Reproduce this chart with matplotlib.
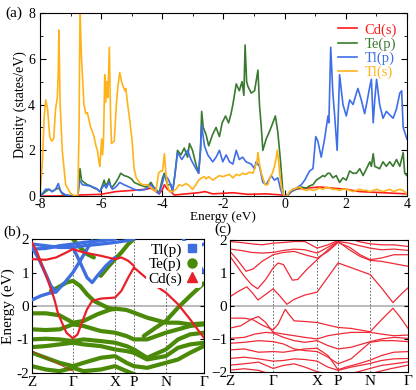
import numpy as np
import matplotlib
matplotlib.use("Agg")
import matplotlib.pyplot as plt
from matplotlib.lines import Line2D

plt.rcParams['font.family'] = ['Liberation Serif', 'DejaVu Serif']
plt.rcParams['mathtext.fontset'] = 'stix'

# ---------------- panel (a) DOS data ----------------
tls_e = [-8.0,-7.92,-7.86,-7.81,-7.75,-7.68,-7.62,-7.55,-7.49,-7.43,-7.40,-7.38,-7.34,-7.27,-7.16,-6.99,-6.83,-6.76,-6.72,-6.69,-6.64,-6.56,-6.50,-6.45,-6.39,-6.34,-6.28,-6.23,-6.17,-6.12,-6.06,-6.04,-5.98,-5.95,-5.92,-5.88,-5.85,-5.81,-5.78,-5.73,-5.69,-5.66,-5.57,-5.50,-5.45,-5.39,-5.33,-5.28,-5.22,-5.19,-5.13,-5.08,-4.99,-4.92,-4.85,-4.75,-4.64,-4.54,-4.48,-4.40,-4.30,-4.21,-4.12,-4.05,-3.99,-3.93,-3.88,-3.83,-3.77,-3.66,-3.55,-3.45,-3.35,-3.22,-3.11,-3.01,-2.90,-2.81,-2.71,-2.62,-2.57,-2.48,-2.35,-2.24,-2.13,-2.02,-1.91,-1.80,-1.69,-1.58,-1.48,-1.37,-1.26,-1.15,-1.04,-0.98,-0.90,-0.87,-0.82,-0.76,-0.71,-0.64,-0.55,-0.48,-0.40,-0.33,-0.27,-0.24,-0.19,-0.16,-0.10,-0.05,0.0,0.08,0.16,0.27,0.38,0.49,0.60,0.71,0.82,0.93,1.04,1.15,1.26,1.37,1.48,1.58,1.69,1.80,1.91,2.02,2.13,2.24,2.35,2.46,2.57,2.68,2.79,2.90,3.01,3.11,3.22,3.33,3.44,3.55,3.66,3.77,3.88,4.0]
tls_d = [0,1.5,3.5,4.2,3.8,2.6,2.4,2.5,3.8,4.3,5.5,7.25,4.0,2.0,0.5,0.1,0.0,0.0,3.0,8.2,6.0,4.0,3.6,3.65,3.3,3.0,2.8,2.6,2.2,2.0,1.4,1.3,2.5,1.8,2.5,5.3,4.1,5.0,4.3,6.5,3.5,2.3,2.4,4.0,4.8,5.4,5.0,4.8,4.6,4.7,4.0,3.5,2.5,1.2,0.8,0.6,0.5,0.5,0.5,0.4,0.3,0.2,1.0,1.1,1.1,1.85,1.0,0.5,0.2,0.2,0.3,0.5,0.45,0.55,0.45,0.3,0.5,0.7,0.8,0.85,0.75,0.85,0.7,0.8,0.9,0.85,0.9,0.95,0.8,0.95,0.9,1.0,0.95,1.05,1.0,1.2,1.5,1.9,1.4,1.0,0.8,0.5,0.5,0.8,1.0,1.3,1.7,2.0,1.5,1.0,0.4,0.1,0.0,0.0,0.2,0.3,0.35,0.4,0.3,0.25,0.3,0.25,0.3,0.35,0.3,0.4,0.35,0.3,0.3,0.25,0.3,0.3,0.25,0.2,0.25,0.3,0.25,0.25,0.2,0.25,0.3,0.25,0.2,0.25,0.3,0.2,0.25,0.3,0.25,0.1]

tep_e = [-8.0,-7.9,-7.81,-7.70,-7.60,-7.49,-7.40,-7.35,-7.27,-7.16,-6.90,-6.76,-6.72,-6.69,-6.64,-6.56,-6.45,-6.34,-6.23,-6.12,-6.04,-5.95,-5.90,-5.85,-5.78,-5.74,-5.68,-5.63,-5.52,-5.43,-5.36,-5.25,-5.13,-5.0,-4.92,-4.75,-4.54,-4.43,-4.37,-4.28,-4.21,-4.10,-3.99,-3.93,-3.83,-3.72,-3.66,-3.58,-3.50,-3.39,-3.28,-3.17,-3.11,-3.01,-2.90,-2.81,-2.75,-2.71,-2.66,-2.57,-2.48,-2.35,-2.24,-2.13,-2.04,-1.93,-1.83,-1.75,-1.69,-1.58,-1.48,-1.39,-1.33,-1.29,-1.24,-1.20,-1.09,-0.98,-0.87,-0.82,-0.76,-0.71,-0.60,-0.50,-0.44,-0.30,-0.22,-0.13,-0.05,0.0,0.08,0.22,0.38,0.55,0.71,0.82,0.93,1.04,1.15,1.26,1.31,1.42,1.48,1.58,1.69,1.80,1.91,2.02,2.13,2.24,2.35,2.46,2.57,2.68,2.79,2.84,2.90,2.95,3.11,3.22,3.33,3.44,3.55,3.66,3.77,3.88,3.93,4.0]
tep_d = [0,0.1,0.2,0.3,0.2,0.3,0.35,0.3,0.1,0.05,0.0,0.0,0.6,1.2,0.7,0.6,0.5,0.45,0.35,0.3,0.2,0.5,0.7,0.45,0.6,0.75,0.4,0.4,0.6,0.8,1.0,0.9,0.85,0.75,0.6,0.5,0.4,0.5,0.6,0.4,0.3,0.15,0.8,1.0,0.5,0.5,0.2,1.0,2.0,1.8,2.1,1.7,2.3,2.0,1.4,1.0,2.0,3.7,3.0,2.7,2.2,2.7,3.0,2.6,3.2,3.5,3.2,3.6,4.0,4.9,4.6,5.0,4.4,6.6,5.0,4.8,4.5,4.6,5.5,4.0,3.0,2.0,2.5,2.8,3.0,3.5,2.8,1.5,0.1,0.0,0.0,0.2,0.3,0.4,0.35,0.45,0.5,0.7,0.8,0.9,0.85,1.0,1.0,0.8,0.9,0.6,0.8,0.7,1.1,1.0,1.0,1.2,0.9,1.2,1.5,1.3,1.85,1.3,1.2,1.5,1.3,1.5,1.3,1.6,1.3,1.9,1.0,0.9]

tlp_e = [-8.0,-7.9,-7.81,-7.70,-7.60,-7.49,-7.40,-7.32,-7.16,-6.90,-6.76,-6.71,-6.61,-6.39,-6.17,-6.04,-5.90,-5.83,-5.74,-5.63,-5.52,-5.39,-5.25,-5.08,-4.92,-4.75,-4.54,-4.37,-4.21,-4.10,-3.99,-3.93,-3.83,-3.72,-3.66,-3.58,-3.50,-3.36,-3.17,-3.06,-2.90,-2.81,-2.75,-2.71,-2.62,-2.51,-2.35,-2.24,-2.13,-2.02,-1.91,-1.80,-1.69,-1.58,-1.48,-1.37,-1.26,-1.09,-0.98,-0.93,-0.82,-0.71,-0.60,-0.44,-0.33,-0.22,-0.13,-0.05,0.0,0.1,0.22,0.38,0.55,0.66,0.82,0.93,1.02,1.09,1.20,1.31,1.42,1.45,1.51,1.58,1.64,1.72,1.80,1.91,2.02,2.13,2.24,2.35,2.40,2.51,2.62,2.68,2.79,2.84,2.90,2.95,3.01,3.11,3.22,3.33,3.55,3.66,3.77,3.83,3.88,4.0]
tlp_d = [0,0.15,0.3,0.3,0.2,0.3,0.55,0.2,0.05,0.0,0.0,0.7,0.5,0.45,0.35,0.2,0.5,0.35,0.6,0.3,0.4,0.6,0.5,0.4,0.3,0.25,0.3,0.5,0.25,0.1,0.6,0.9,0.8,0.5,0.2,1.0,1.9,1.6,2.0,1.6,1.2,1.0,2.0,3.1,2.2,1.8,1.5,1.7,2.0,1.5,1.8,1.5,1.4,2.0,1.6,1.7,1.5,1.4,1.2,1.5,1.3,0.6,0.5,0.9,0.7,0.8,0.3,0.0,0.0,0.05,0.2,0.35,0.5,0.7,1.1,1.2,2.6,2.4,1.7,2.5,3.5,3.2,6.5,4.5,3.5,2.0,5.3,4.0,3.5,4.2,4.0,4.5,4.7,4.2,3.6,4.0,4.8,5.1,3.2,4.2,5.1,4.0,3.4,3.7,3.4,3.8,4.5,4.6,3.0,2.5]

cds_e = [-8,-6.8,-6.7,-6.0,-5.52,-4.99,-4.54,-4.37,-4.21,-4.10,-3.99,-3.93,-3.83,-3.72,-3.61,-3.22,-2.81,-2.60,-2.35,-1.69,-1.2,-0.6,-0.05,0.0,0.1,0.27,0.71,1.15,1.58,2.02,2.46,3.22,4.0]
cds_d = [0.0,0.02,0.05,0.08,0.2,0.25,0.3,0.35,0.2,0.1,0.3,0.5,0.3,0.2,0.05,0.1,0.15,0.2,0.1,0.15,0.08,0.1,0.05,0.0,0.05,0.3,0.35,0.4,0.35,0.3,0.2,0.15,0.1]

dos_labels = ['Cd(s)', 'Te(p)', 'Tl(p)', 'Tl(s)']
dos_colors = ['#ff1a1a', '#3a7a30', '#3f6fe8', '#ffb31a']

# ---------------- k-path labels ----------------
kpath_labels = ['Z', 'Γ', 'X', 'P', 'N', 'Γ']
kpath_b = [0, 23.8, 48.3, 59.3, 77.9, 100]
kpath_c = [0, 24.2, 48.9, 60.7, 78.7, 100]

# ---------------- panel (c) bands: (k, E) knots ----------------
c_cb1 = ([0,4,9.4,12.5,15.7,20,24.2,28,31.9,36,42,48.9,54,60.7,70,78.7,85,91.5,96,100],
         [0.28,0.42,0.58,0.4,0.18,0.35,0.52,0.3,0.05,0.2,0.33,0.42,0.8,1.3,1.12,0.95,0.55,0.1,0.35,0.55])
c_cb2 = ([0,4,8,12,15.5,20,24.2,27,30,35,38,43,48.9,55,60.7,67,73,78.7,85,92,100],
         [1.5,1.2,0.9,0.65,0.52,0.8,1.15,1.3,1.25,0.78,0.8,1.1,1.4,1.7,1.95,1.7,1.5,1.38,1.35,1.28,1.2])
c_cb3 = ([0,4,9,13,18,24.2,30,36,42,48.9,55,60.7,67,73,78.7,85,92,100],
         [1.65,1.4,1.05,1.12,1.35,1.55,1.62,1.65,1.55,1.45,1.65,1.92,1.78,1.55,1.4,1.45,1.55,1.55])
c_cb4 = ([0,6,12,18,24.2,30,36,42,48.9,55,60.7,67,73,78.7,85,92,100],
         [1.72,1.68,1.62,1.6,1.62,1.68,1.72,1.7,1.6,1.78,1.95,1.9,1.82,1.75,1.7,1.72,1.68])
c_cb5 = ([0,6,12,18,24.2,30,36,42,48.9,55,60.7,67,72,78.7,85,92,100],
         [1.95,1.92,1.88,1.85,1.9,1.92,1.95,1.95,1.75,1.85,1.98,2.05,1.95,1.88,1.85,1.85,1.8])
c_vb1 = ([0,8,13,18,24.2,27,31,33,36,42,48.9,55,60.7,68,78.7,85,91.5,95,100],
         [-0.37,-0.37,-0.42,-0.58,-0.72,-0.55,-0.1,-0.25,-0.45,-0.47,-0.5,-0.58,-0.65,-0.68,-0.78,-0.42,-0.07,-0.3,-0.68])
c_vb2 = ([0,6,12,16,20,24.2,30,36,42,48.9,55,60.7,68,78.7,85,92,100],
         [-0.67,-0.6,-0.4,-0.32,-0.5,-0.8,-0.85,-0.9,-0.95,-1.0,-0.9,-0.85,-0.8,-0.8,-0.85,-0.9,-0.88])
c_vb3 = ([0,8,14,20,24.2,30,36,42,48.9,55,60.7,68,78.7,85,92,100],
         [-0.98,-0.95,-0.85,-0.8,-0.82,-0.95,-1.05,-1.1,-1.05,-1.2,-1.3,-1.25,-1.08,-1.0,-0.95,-0.98])
c_vb4 = ([0,8,16,24.2,30,36,42,48.9,55,60.7,68,78.7,85,92,100],
         [-1.13,-1.1,-1.05,-1.08,-1.15,-1.3,-1.35,-1.38,-1.55,-1.75,-1.6,-1.1,-1.05,-1.05,-1.08])
c_vb5 = ([0,8,16,24.2,30,36,42,48.9,55,60.7,65,72,78.7,85,92,100],
         [-1.33,-1.3,-1.4,-1.38,-1.4,-1.35,-1.3,-1.28,-1.5,-1.93,-1.85,-1.75,-1.64,-1.5,-1.4,-1.38])
c_vb6 = ([0,8,16,24.2,30,36,42,48.9,55,60.7,68,78.7,85,92,100],
         [-1.59,-1.55,-1.6,-1.67,-1.65,-1.6,-1.62,-1.67,-1.85,-1.95,-1.85,-1.74,-1.65,-1.6,-1.59])
c_vb7 = ([0,8,16,24.2,30,36,42,48.9,55,68,78.7,85,92,100],
         [-1.79,-1.75,-1.7,-1.89,-1.8,-1.75,-1.85,-1.99,-2.05,-2.05,-1.89,-1.8,-1.75,-1.69])
c_vb8 = ([0,8,16,22,78.7,90,100],
         [-1.94,-1.9,-1.95,-2.05,-2.05,-1.9,-1.79])
c_bands = [c_cb1, c_cb2, c_cb3, c_cb4, c_cb5, c_vb1, c_vb2, c_vb3, c_vb4, c_vb5, c_vb6, c_vb7, c_vb8]

# ---------------- panel (b) fat bands: (k, E) knots ----------------
b_tlp1 = ([0,5,10,14,19,23.8,28,32,35], [0.18,0.3,0.38,0.42,0.7,1.0,1.35,1.7,1.95])
b_tlp2 = ([0,4,8,11,14], [1.75,1.4,0.95,0.6,0.42])
b_tlp3 = ([23.8,28,32,35,38,43,48.3], [1.75,1.3,0.85,0.7,0.9,1.2,1.45])
b_tlp4 = ([0,8,16,23.8,30,40,48.3,55,59.3], [1.85,1.8,1.75,1.75,1.8,1.85,1.9,1.95,2.0])
b_tlp5 = ([0,8,16,23.8,30,40,48.3], [1.7,1.72,1.8,1.85,1.9,1.95,2.0])
b_tlp6 = ([88,94,100], [2.0,1.5,1.0])
b_tlp7 = ([93,100], [1.7,1.85])
b_cds1 = ([0,3,6,9,11,13,15,17,20,23.8,26.5,29,32,35,40,48.3,52,56,59.3,65,72,77.9,85,92,100],
          [1.9,1.6,1.2,0.8,0.5,0.2,-0.2,-0.45,-0.8,-0.97,-0.85,-0.5,-0.1,0.15,0.22,0.25,0.45,0.85,1.15,0.9,0.6,0.4,0.05,-0.4,-0.95])
b_cds2 = ([0,8,14,20,23.8,30,40,48.3,52,56,59.3], [1.4,1.38,1.45,1.6,1.7,1.6,1.5,1.4,1.45,1.35,1.2])
b_tep_c1 = ([11,15,20,23.8,28,32,36,40,44,48.3], [0.45,0.55,0.7,0.75,0.6,0.35,0.15,0.05,-0.05,-0.1])
b_tep_c2 = ([40,44,48.3,52,56,59.3], [0.9,1.15,1.4,1.6,1.85,2.0])
b_tep_c3 = ([23.8,28,32,36], [2.0,1.75,1.55,1.45])
b_tep_c4 = ([65,72,77.9,85,92,100], [-0.9,-0.65,-0.45,-0.05,0.3,0.68])
b_tep_v1 = ([0,8,16,23.8,30,38,45,48.3,55,59.3,67,77.9,85,92,100],
            [-0.22,-0.22,-0.28,-0.5,-0.45,-0.25,-0.12,-0.08,-0.12,-0.2,-0.35,-0.5,-0.5,-0.55,-0.52])
b_tep_v2 = ([0,8,16,23.8,30,40,48.3,55,59.3,67,77.9,85,92,100],
            [-0.7,-0.72,-0.7,-0.55,-0.6,-0.75,-0.8,-0.9,-1.0,-1.0,-0.8,-0.7,-0.6,-0.55])
b_tep_v3 = ([0,8,16,23.8,30,40,48.3,55,59.3,67,77.9,85,92,100],
            [-1.0,-0.98,-1.0,-1.05,-1.0,-1.05,-1.1,-1.2,-1.3,-1.55,-1.3,-1.0,-0.85,-0.8])
b_tep_v4 = ([0,8,16,23.8,30,40,48.3,55,59.3,67,77.9,85,92,100],
            [-1.23,-1.2,-1.15,-1.1,-1.15,-1.2,-1.3,-1.35,-1.4,-1.6,-1.5,-1.25,-1.15,-1.1])
b_tep_v5 = ([0,8,16,23.8,30,40,48.3,55,59.3,67,77.9,85,92,100],
            [-1.4,-1.55,-1.7,-1.8,-1.7,-1.55,-1.5,-1.7,-1.8,-1.85,-1.7,-1.6,-1.4,-1.2])
b_tep_v6 = ([0,8,16,23.8,30,40,48.3,55,60], [-1.8,-1.9,-1.95,-1.85,-1.95,-1.9,-1.8,-1.95,-2.05])
b_thin1 = ([0,10,20,24], [-1.35,-1.6,-1.85,-1.95])

b_blue = [b_tlp1, b_tlp2, b_tlp3, b_tlp4, b_tlp5, b_tlp6, b_tlp7]
b_red = [b_cds1, b_cds2]
b_green = [b_tep_c1, b_tep_c2, b_tep_c3, b_tep_c4, b_tep_v1, b_tep_v2, b_tep_v3,
           b_tep_v4, b_tep_v5, b_tep_v6]

legend_b = ['Tl(p)', 'Te(p)', 'Cd(s)']
col_blue, col_green, col_red = '#3d6fe0', '#4a8a08', '#e8202a'

# ---------------- figure ----------------
fig = plt.figure(figsize=(4.16, 3.90), dpi=100)
ax_a = fig.add_axes([0.096, 0.497, 0.882, 0.470])
ax_b = fig.add_axes([0.077, 0.044, 0.413, 0.343])
ax_c = fig.add_axes([0.553, 0.046, 0.428, 0.339])

# panel (a)
for e, d, lab, col in [(cds_e, cds_d, dos_labels[0], dos_colors[0]),
                       (tep_e, tep_d, dos_labels[1], dos_colors[1]),
                       (tlp_e, tlp_d, dos_labels[2], dos_colors[2]),
                       (tls_e, tls_d, dos_labels[3], dos_colors[3])]:
    ax_a.plot(e, d, color=col, lw=1.2, label=lab)
ax_a.set_xlim(-8, 4)
ax_a.set_ylim(0, 8)
ax_a.set_xticks([-8, -6, -4, -2, 0, 2, 4])
ax_a.set_xticklabels(['-8', '-6', '-4', '-2', '0', '2', '4'])
ax_a.set_yticks([0, 2, 4, 6, 8])
ax_a.set_xticks(np.arange(-7, 4, 2), minor=True)
ax_a.set_yticks([1, 3, 5, 7], minor=True)
ax_a.tick_params(direction='in', which='both', top=True, right=True, labelsize=10)
ax_a.tick_params(axis='x', pad=1.0)
ax_a.tick_params(axis='y', pad=3.5)
ax_a.tick_params(which='major', length=4)
ax_a.tick_params(which='minor', length=2)
ax_a.set_xlabel('Energy (eV)', fontsize=9.5, labelpad=0.5)
ax_a.set_ylabel('Density (states/eV)', fontsize=10, labelpad=1)
leg = ax_a.legend(loc='upper right', frameon=False, fontsize=10.5, handlelength=1.3,
                  handletextpad=0.5, borderaxespad=0.3, labelspacing=0.05)
for t, c in zip(leg.get_texts(), dos_colors):
    t.set_color(c)
fig.text(0.012, 0.965, '(a)', fontsize=11, va='center')

# panels (b), (c)
def setup_band_axis(ax, kpath, minus):
    ax.set_xlim(0, 100)
    ax.set_ylim(-2, 2)
    for kx in kpath[1:-1]:
        ax.axvline(kx, color='#555555', lw=0.6, ls=(0, (2, 2)), zorder=0.5)
    ax.axhline(0, color='#bbbbbb', lw=1.4, zorder=0.4)
    ax.set_xticks(kpath)
    ax.set_xticklabels(kpath_labels, fontsize=11)
    ax.set_yticks([-2, -1, 0, 1, 2])
    ax.set_yticklabels([minus + '2', minus + '1', '0', '1', '2'], fontsize=11)
    ax.tick_params(axis='x', length=0, pad=2)
    ax.tick_params(axis='y', direction='in', length=3, right=True, pad=2)

setup_band_axis(ax_b, kpath_b, '-')
for bk, be in b_green:
    ax_b.plot(bk, be, color=col_green, lw=3.0, solid_capstyle='round', zorder=2)
ax_b.plot(b_thin1[0], b_thin1[1], color='#9a4a10', lw=0.8, zorder=2)
for bk, be in b_blue:
    ax_b.plot(bk, be, color=col_blue, lw=2.4, solid_capstyle='round', zorder=3)
for bk, be in b_red:
    ax_b.plot(bk, be, color=col_red, lw=1.6, solid_capstyle='round', zorder=4)
ax_b.set_ylabel('Energy (eV)', fontsize=11, labelpad=1)
handles = [Line2D([], [], ls='none', marker='s', color=col_blue, ms=6),
           Line2D([], [], ls='none', marker='o', color=col_green, ms=6.5),
           Line2D([], [], ls='none', marker='^', color=col_red, ms=6.5)]
lb = ax_b.legend(handles, legend_b, loc='upper right', markerfirst=False, fontsize=11,
                 frameon=True, framealpha=1, edgecolor='none', borderpad=0.1,
                 handletextpad=0.2, labelspacing=0.05, borderaxespad=0.15, handlelength=1.0)
lb.set_zorder(10)
fig.text(0.008, 0.405, '(b)', fontsize=11, va='center')

setup_band_axis(ax_c, kpath_c, '\u2212')
for bk, be in c_bands:
    ax_c.plot(bk, be, color='#ee2a36', lw=0.9, zorder=2)
fig.text(0.515, 0.413, '(c)', fontsize=11, va='center')

fig.savefig('out.png', dpi=100)
